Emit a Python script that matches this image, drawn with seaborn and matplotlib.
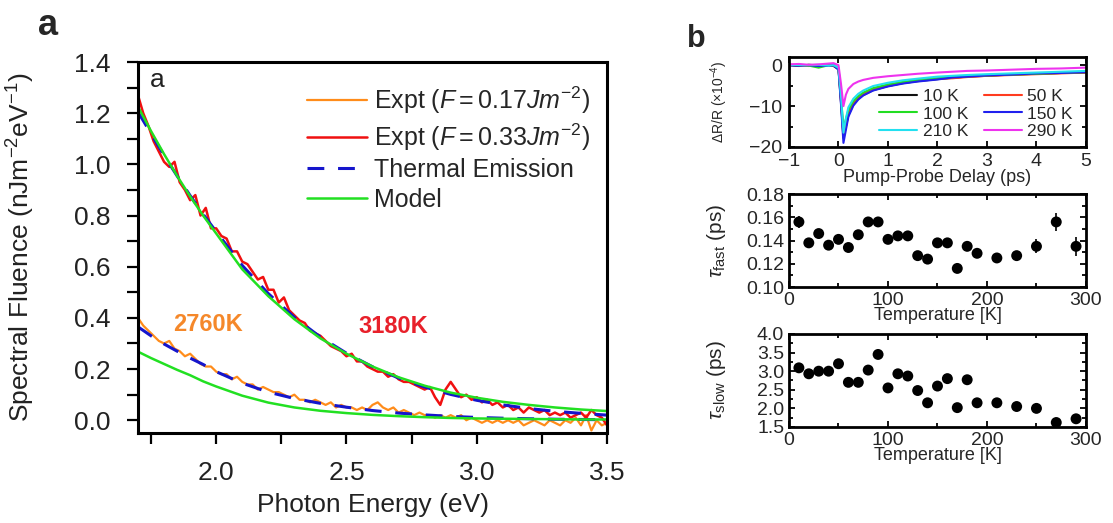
import pandas as pd
import matplotlib
matplotlib.use('Agg')
import matplotlib.pyplot as plt
from matplotlib.ticker import MultipleLocator, FormatStrFormatter
import seaborn as sns

# ---- panel a: emission spectra ----
E_FINE = [1.70, 1.72, 1.74, 1.76, 1.78, 1.80, 1.82, 1.84, 1.86, 1.88,
          1.90, 1.92, 1.94, 1.96, 1.98, 2.00, 2.02, 2.04, 2.06, 2.08,
          2.10, 2.12, 2.14, 2.16, 2.18, 2.20, 2.22, 2.24, 2.26, 2.28,
          2.30, 2.32, 2.34, 2.36, 2.38, 2.40, 2.42, 2.44, 2.46, 2.48,
          2.50, 2.52, 2.54, 2.56, 2.58, 2.60, 2.62, 2.64, 2.66, 2.68,
          2.70, 2.72, 2.74, 2.76, 2.78, 2.80, 2.82, 2.84, 2.86, 2.88,
          2.90, 2.92, 2.94, 2.96, 2.98, 3.00, 3.02, 3.04, 3.06, 3.08,
          3.10, 3.12, 3.14, 3.16, 3.18, 3.20, 3.22, 3.24, 3.26, 3.28,
          3.30, 3.32, 3.34, 3.36, 3.38, 3.40, 3.42, 3.44, 3.46, 3.48, 3.50]
EXPT_033 = [1.27, 1.20, 1.15, 1.09, 1.05, 1.01, 0.99, 1.01, 0.93, 0.90,
            0.86, 0.88, 0.80, 0.83, 0.75, 0.75, 0.72, 0.71, 0.66, 0.66,
            0.62, 0.61, 0.58, 0.55, 0.56, 0.51, 0.51, 0.46, 0.48, 0.43,
            0.41, 0.39, 0.38, 0.35, 0.34, 0.33, 0.31, 0.29, 0.28, 0.27,
            0.25, 0.26, 0.23, 0.23, 0.21, 0.20, 0.19, 0.19, 0.17, 0.18,
            0.16, 0.15, 0.15, 0.14, 0.13, 0.12, 0.13, 0.09, 0.06, 0.12,
            0.15, 0.12, 0.09, 0.10, 0.08, 0.09, 0.07, 0.08, 0.06, 0.07,
            0.05, 0.06, 0.04, 0.05, 0.03, 0.05, 0.04, 0.03, 0.04, 0.02,
            0.03, 0.02, 0.03, 0.01, 0.02, 0.03, 0.01, 0.04, 0.02, 0.01, -0.02]
EXPT_017 = [0.40, 0.37, 0.35, 0.33, 0.31, 0.30, 0.31, 0.28, 0.27, 0.25,
            0.26, 0.24, 0.22, 0.21, 0.21, 0.19, 0.18, 0.18, 0.16, 0.17,
            0.15, 0.14, 0.14, 0.12, 0.13, 0.12, 0.11, 0.11, 0.10, 0.09,
            0.10, 0.08, 0.08, 0.07, 0.08, 0.07, 0.06, 0.07, 0.05, 0.06,
            0.05, 0.05, 0.04, 0.05, 0.04, 0.06, 0.07, 0.05, 0.04, 0.05,
            0.03, 0.04, 0.03, 0.02, 0.03, 0.02, 0.02, 0.01, 0.02, 0.01,
            0.02, 0.01, 0.02, 0.00, 0.01, 0.00, -0.01, 0.00, -0.01, 0.00,
            -0.01, 0.00, -0.01, 0.00, -0.02, -0.01, 0.00, -0.01, -0.02, 0.00,
            -0.01, -0.02, 0.00, -0.01, 0.01, -0.02, 0.02, -0.04, 0.00, -0.02, -0.01]

E_SMOOTH = [1.70, 1.75, 1.80, 1.85, 1.90, 1.95, 2.00, 2.10, 2.20, 2.30, 2.40,
            2.50, 2.60, 2.70, 2.80, 2.90, 3.00, 3.10, 3.20, 3.30, 3.40, 3.50]
THERMAL_3180 = [1.205, 1.12, 1.035, 0.955, 0.878, 0.805, 0.737, 0.605, 0.495, 0.402, 0.325,
                0.262, 0.209, 0.165, 0.13, 0.101, 0.078, 0.06, 0.046, 0.035, 0.027, 0.02]
MODEL_HIGH = [1.225, 1.13, 1.04, 0.955, 0.875, 0.80, 0.73, 0.59, 0.485, 0.395, 0.32,
              0.26, 0.21, 0.168, 0.135, 0.108, 0.088, 0.072, 0.06, 0.05, 0.042, 0.036]
THERMAL_2760 = [0.365, 0.33, 0.298, 0.27, 0.243, 0.218, 0.19, 0.145, 0.11, 0.085, 0.066,
                0.051, 0.038, 0.028, 0.021, 0.015, 0.011, 0.008, 0.006, 0.004, 0.003, 0.002]
MODEL_LOW = [0.268, 0.243, 0.22, 0.197, 0.176, 0.152, 0.132, 0.096, 0.069, 0.05, 0.037,
             0.028, 0.021, 0.016, 0.012, 0.009, 0.007, 0.006, 0.005, 0.004, 0.003, 0.003]

# ---- panel b (top): transient reflectivity ----
DELAY = [-1.0, -0.8, -0.6, -0.4, -0.2, -0.1, 0.0, 0.05, 0.1, 0.15, 0.2, 0.3, 0.4,
         0.5, 0.7, 1.0, 1.3, 1.6, 2.0, 2.3, 2.6, 3.0, 3.5, 4.0, 4.5, 5.0]
TRACE_LABELS = ['10 K', '50 K', '100 K', '150 K', '210 K', '290 K']
TRACE_COLORS = ['#111111', '#ff3b1f', '#22dd22', '#2020ee', '#22e0f0', '#ee33ee']
TRACES = [
    [0.0, -0.2, 0.1, -0.1, 0.0, -0.2, -1.0, -9.0, -17.8, -15.0, -12.2, -9.6, -8.2,
     -7.3, -6.1, -5.1, -4.4, -3.9, -3.4, -3.1, -2.8, -2.6, -2.3, -2.1, -1.9, -1.8],
    [0.1, 0.0, -0.2, 0.0, 0.1, -0.1, -0.8, -8.5, -17.0, -14.3, -11.6, -9.2, -7.9,
     -7.0, -5.9, -4.9, -4.3, -3.8, -3.3, -3.2, -2.9, -2.6, -2.4, -2.2, -2.0, -1.8],
    [0.0, 0.1, -0.1, -0.6, 0.0, 0.1, -0.7, -7.8, -15.3, -13.2, -11.0, -8.8, -7.6,
     -6.7, -5.6, -4.7, -4.1, -3.6, -3.2, -2.9, -2.7, -2.5, -2.3, -2.1, -1.9, -1.7],
    [0.0, -0.1, 0.0, -0.2, -0.1, 0.0, -1.1, -9.5, -19.0, -15.8, -12.6, -9.9, -8.4,
     -7.4, -6.2, -5.2, -4.5, -4.0, -3.5, -3.0, -2.8, -2.5, -2.3, -2.0, -1.9, -1.7],
    [0.1, 0.0, 0.0, 0.1, -0.1, 0.0, -0.6, -7.5, -16.5, -13.0, -10.3, -8.2, -7.0,
     -6.2, -5.1, -4.3, -3.7, -3.3, -2.8, -2.6, -2.4, -2.2, -2.0, -1.8, -1.6, -1.4],
    [0.2, 0.3, 0.1, 0.2, 0.4, 0.5, 0.0, -4.5, -10.0, -7.2, -5.8, -4.6, -4.0,
     -3.6, -3.1, -2.7, -2.4, -2.1, -1.8, -1.6, -1.4, -1.3, -1.1, -0.9, -0.8, -0.6],
]

# ---- panel b (middle/bottom): fitted time constants ----
TEMPS = [10, 20, 30, 40, 50, 60, 70, 80, 90, 100, 110, 120, 130, 140, 150, 160,
         170, 180, 190, 210, 230, 250, 270, 290]
TAU_FAST = [0.156, 0.138, 0.146, 0.136, 0.141, 0.134, 0.145, 0.156, 0.156, 0.141,
            0.144, 0.144, 0.127, 0.124, 0.138, 0.138, 0.116, 0.135, 0.129, 0.125,
            0.127, 0.135, 0.156, 0.135]
TAU_FAST_ERR = [0.005, 0.003, 0.003, 0.003, 0.003, 0.003, 0.003, 0.003, 0.003, 0.003,
                0.003, 0.003, 0.003, 0.003, 0.003, 0.003, 0.003, 0.003, 0.004, 0.004,
                0.003, 0.006, 0.008, 0.008]
TAU_SLOW = [3.09, 2.93, 3.0, 3.0, 3.2, 2.7, 2.7, 3.03, 3.45, 2.55, 2.93, 2.87,
            2.48, 2.15, 2.6, 2.8, 2.02, 2.77, 2.15, 2.15, 2.05, 2.0, 1.62, 1.72]

ORANGE = '#ff8c1a'
RED = '#f01010'
BLUE = '#1515cc'
GREEN = '#22e022'

sns.set_theme(style='ticks')
plt.rcParams['font.family'] = ['Liberation Sans', 'DejaVu Sans']
plt.rcParams['mathtext.fontset'] = 'custom'
plt.rcParams['mathtext.rm'] = 'Liberation Sans'
plt.rcParams['mathtext.it'] = 'Liberation Sans:italic'
plt.rcParams['mathtext.bf'] = 'Liberation Sans:bold'

fig = plt.figure(figsize=(11.13, 5.23), dpi=100)

# ------------------------- panel a -------------------------
ax = fig.add_axes([0.124, 0.172, 0.4214, 0.7094])
sns.lineplot(x=E_FINE, y=EXPT_017, ax=ax, color=ORANGE, lw=1.6, sort=False,
             label=r'Expt ($\mathit{F{=}0.17Jm}^{-2}$)')
sns.lineplot(x=E_FINE, y=EXPT_033, ax=ax, color=RED, lw=1.8, sort=False,
             label=r'Expt ($\mathit{F{=}0.33Jm}^{-2}$)')
sns.lineplot(x=E_SMOOTH, y=THERMAL_3180, ax=ax, color=BLUE, lw=2.2, sort=False,
             label='Thermal Emission')
ax.lines[-1].set_dashes((5.5, 4.5))
sns.lineplot(x=E_SMOOTH, y=THERMAL_2760, ax=ax, color=BLUE, lw=2.2, sort=False)
ax.lines[-1].set_dashes((5.5, 4.5))
sns.lineplot(x=E_SMOOTH, y=MODEL_HIGH, ax=ax, color=GREEN, lw=1.8, sort=False,
             label='Model')
sns.lineplot(x=E_SMOOTH, y=MODEL_LOW, ax=ax, color=GREEN, lw=1.8, sort=False)

ax.set_xlim(1.7, 3.5)
ax.set_ylim(-0.05, 1.4)
ax.xaxis.set_major_locator(MultipleLocator(0.5))
ax.xaxis.set_minor_locator(MultipleLocator(0.25))
ax.yaxis.set_major_locator(MultipleLocator(0.2))
ax.yaxis.set_minor_locator(MultipleLocator(0.1))
ax.xaxis.set_major_formatter(FormatStrFormatter('%.1f'))
ax.yaxis.set_major_formatter(FormatStrFormatter('%.1f'))
ax.tick_params(which='both', direction='out', length=8, width=1.6, labelsize=19,
               color='black', labelcolor='#222222')
ax.tick_params(axis='x', which='both', pad=12)
ax.tick_params(axis='y', which='both', pad=12)
for s in ax.spines.values():
    s.set_linewidth(2.2)
    s.set_color('black')
ax.set_xlabel('Photon Energy (eV)', fontsize=19, color='#222222', labelpad=6)
ax.set_ylabel(r'Spectral Fluence (nJm$^{-2}$eV$^{-1}$)', fontsize=19,
              color='#222222')
ax.yaxis.set_label_coords(-0.215, 0.5)
ax.legend(loc='upper right', bbox_to_anchor=(0.965, 0.94), frameon=False,
          fontsize=18, handlelength=2.4, handletextpad=0.3, labelspacing=0.22,
          borderaxespad=0, borderpad=0)
ax.text(0.026, 0.985, 'a', transform=ax.transAxes, fontsize=19, va='top',
        ha='left', color='#222222')
ax.text(1.97, 0.375, '2760K', color='#f5882a', fontsize=17, fontweight='bold',
        ha='center', va='center')
ax.text(2.68, 0.367, '3180K', color='#e8202a', fontsize=17, fontweight='bold',
        ha='center', va='center')

# ------------------------- panel b -------------------------
def style_b(a):
    a.tick_params(which='both', direction='in', top=True, right=True,
                  width=1.3, labelsize=14, color='black')
    a.tick_params(which='major', length=4)
    a.tick_params(which='minor', length=3)
    for s in a.spines.values():
        s.set_linewidth(2.0)
        s.set_color('black')

b1 = fig.add_axes([0.7089, 0.719, 0.2668, 0.172])
rows = []
for lab, vals in zip(TRACE_LABELS, TRACES):
    for t, v in zip(DELAY, vals):
        rows.append({'delay': t, 'dr': v, 'temp': lab})
traces = pd.DataFrame(rows)
sns.lineplot(data=traces, x='delay', y='dr', hue='temp', hue_order=TRACE_LABELS,
             palette=dict(zip(TRACE_LABELS, TRACE_COLORS)), ax=b1, lw=1.5,
             estimator=None, sort=False)
b1.set_xlim(-1, 5)
b1.set_ylim(-20, 2)
b1.xaxis.set_major_locator(MultipleLocator(1))
b1.yaxis.set_major_locator(MultipleLocator(10))
b1.yaxis.set_minor_locator(MultipleLocator(5))
style_b(b1)
b1.tick_params(axis='x', pad=4)
b1.tick_params(axis='y', pad=5)
b1.set_xlabel('Pump-Probe Delay (ps)', fontsize=13, labelpad=-0.5)
b1.set_ylabel(r'ΔR/R (×10$^{-4}$)', fontsize=10)
b1.yaxis.set_label_coords(-0.2, 0.5)
h, l = b1.get_legend_handles_labels()
order = [0, 2, 4, 1, 3, 5]
b1.legend([h[i] for i in order], [l[i] for i in order], ncol=2, loc='lower right',
          bbox_to_anchor=(0.99, -0.025), frameon=False, fontsize=12.5,
          handlelength=2.2, handletextpad=0.3, columnspacing=0.9,
          labelspacing=0.12, borderpad=0.1)

b2 = fig.add_axes([0.7089, 0.4512, 0.2668, 0.1778])
b2.errorbar(TEMPS, TAU_FAST, yerr=TAU_FAST_ERR, fmt='none', ecolor='black',
            elinewidth=1.2, zorder=2)
sns.scatterplot(x=TEMPS, y=TAU_FAST, ax=b2, color='black', s=62,
                edgecolor='none', zorder=3)
b2.set_xlim(0, 300)
b2.set_ylim(0.10, 0.18)
b2.xaxis.set_major_locator(MultipleLocator(100))
b2.xaxis.set_minor_locator(MultipleLocator(50))
b2.yaxis.set_major_locator(MultipleLocator(0.02))
b2.yaxis.set_minor_locator(MultipleLocator(0.01))
b2.yaxis.set_major_formatter(FormatStrFormatter('%.2f'))
style_b(b2)
b2.set_xlabel('Temperature [K]', fontsize=13, labelpad=-1)
b2.set_ylabel(r'$\tau_{\mathrm{fast}}$ (ps)', fontsize=15)
b2.yaxis.set_label_coords(-0.205, 0.5)

b3 = fig.add_axes([0.7089, 0.1836, 0.2668, 0.1778])
sns.scatterplot(x=TEMPS, y=TAU_SLOW, ax=b3, color='black', s=62,
                edgecolor='none', zorder=3)
b3.set_xlim(0, 300)
b3.set_ylim(1.5, 4.0)
b3.xaxis.set_major_locator(MultipleLocator(100))
b3.xaxis.set_minor_locator(MultipleLocator(50))
b3.yaxis.set_major_locator(MultipleLocator(0.5))
b3.yaxis.set_minor_locator(MultipleLocator(0.25))
b3.yaxis.set_major_formatter(FormatStrFormatter('%.1f'))
style_b(b3)
b3.set_xlabel('Temperature [K]', fontsize=13, labelpad=-1)
b3.set_ylabel(r'$\tau_{\mathrm{slow}}$ (ps)', fontsize=15)
b3.yaxis.set_label_coords(-0.205, 0.5)

fig.text(0.034, 0.985, 'a', fontsize=26, fontweight='bold', va='top', ha='left')
fig.text(0.617, 0.955, 'b', fontsize=22, fontweight='bold', va='top', ha='left')

fig.savefig('out.png', dpi=100, facecolor='white')
